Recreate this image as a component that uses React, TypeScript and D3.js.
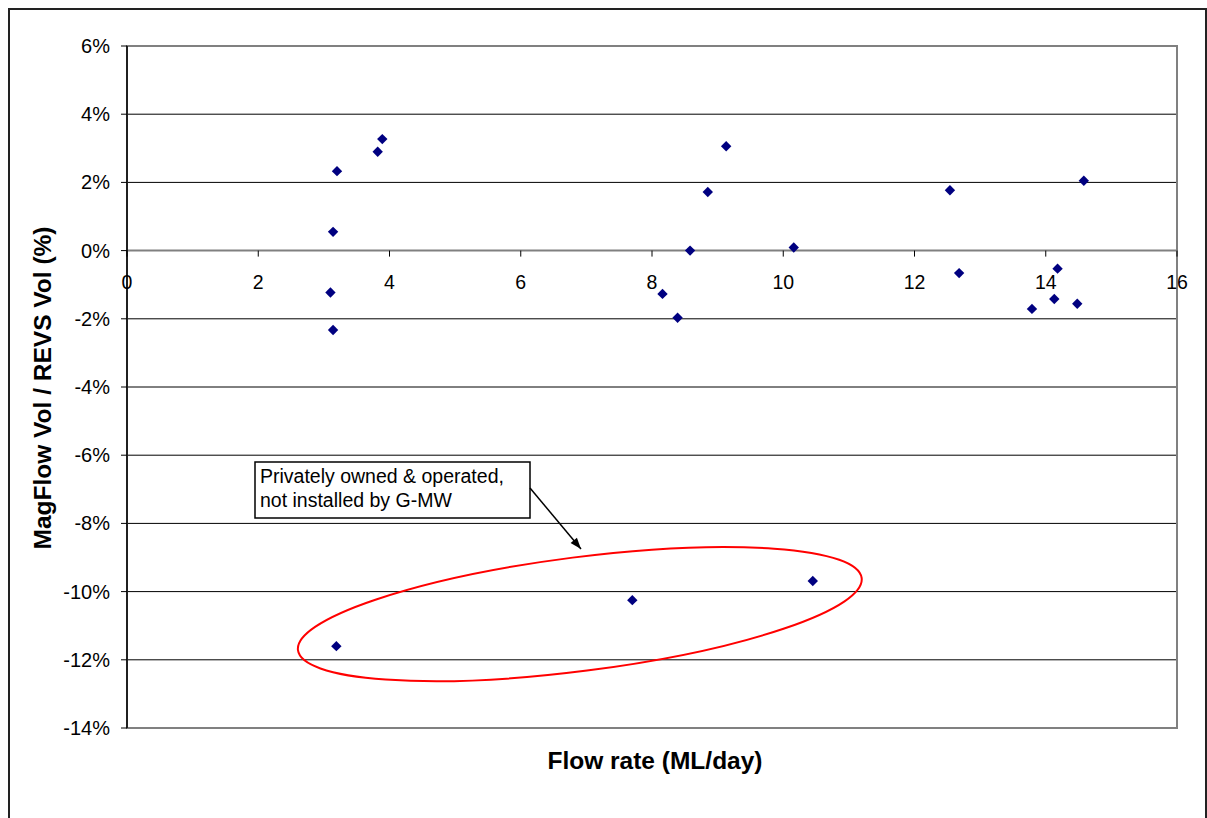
import React from 'react';
import * as d3 from 'd3';

// Flow rate (ML/day) and MagFlow / REVS volume difference (%)
const flowRate = [
  3.1, 3.14, 3.14, 3.2, 3.82, 3.89, 8.16, 8.39, 8.58, 8.85, 9.13, 10.16,
  12.54, 12.68, 14.58, 14.18, 14.13, 13.79, 14.48, 3.19, 7.7, 10.45,
];
const volDiff = [
  -1.23, -2.33, 0.55, 2.33, 2.9, 3.27, -1.27, -1.97, 0.0, 1.72, 3.06, 0.09,
  1.77, -0.66, 2.05, -0.53, -1.42, -1.71, -1.56, -11.6, -10.25, -9.69,
];

const xTicks = [0, 2, 4, 6, 8, 10, 12, 14, 16];
const yTicks = [-14, -12, -10, -8, -6, -4, -2, 0, 2, 4, 6];

const noteLines = ['Privately owned & operated,', 'not installed by G-MW'];
// ellipse around the private meters, in data units
const ring = { cx: 6.9, cy: -10.66, rx: 4.33, ry: 1.67, angle: -7.3 };

const font = '"Liberation Sans", Arial, sans-serif';

const App = () => {
  const margin = { left: 127, right: 1177, top: 46, bottom: 728 };

  const x = d3.scaleLinear().domain([0, 16]).range([margin.left, margin.right]);
  const y = d3.scaleLinear().domain([-14, 6]).range([margin.bottom, margin.top]);

  const points = d3.zip(flowRate, volDiff);
  const diamond = 'M0,-5.2L5.2,0L0,5.2L-5.2,0Z';

  // annotation box and arrow
  const box = { x: 255, y: 462, w: 275, h: 56 };
  const arrowFrom: [number, number] = [box.x + box.w, box.y + 26];
  const arrowTo: [number, number] = [581, 549];
  const ang = Math.atan2(arrowTo[1] - arrowFrom[1], arrowTo[0] - arrowFrom[0]);
  const head = d3.path();
  head.moveTo(arrowTo[0], arrowTo[1]);
  head.lineTo(arrowTo[0] - 12 * Math.cos(ang - 0.35), arrowTo[1] - 12 * Math.sin(ang - 0.35));
  head.lineTo(arrowTo[0] - 12 * Math.cos(ang + 0.35), arrowTo[1] - 12 * Math.sin(ang + 0.35));
  head.closePath();

  const ex = x(ring.cx);
  const ey = y(ring.cy);
  const erx = x(ring.cx + ring.rx) - ex;
  const ery = y(ring.cy - ring.ry) - ey;

  return (
    <div style={{ position: 'absolute', left: 0, top: 0 }}>
      <svg width={1207} height={818} style={{ display: 'block', background: '#fff' }}>
        {/* outer chart frame */}
        <rect x={9} y={9} width={1197} height={900} fill="none" stroke="#222" strokeWidth={2} />

        {/* gridlines */}
        {yTicks
          .filter((t) => t !== 0 && t !== -14 && t !== 6)
          .map((t) => (
            <line key={t} x1={margin.left} x2={margin.right} y1={y(t)} y2={y(t)} stroke="#000" strokeWidth={1} />
          ))}

        {/* plot area border */}
        <rect
          x={margin.left}
          y={margin.top}
          width={margin.right - margin.left}
          height={margin.bottom - margin.top}
          fill="none"
          stroke="#808080"
          strokeWidth={2}
        />

        {/* x axis at 0% */}
        <line x1={margin.left} x2={margin.right} y1={y(0)} y2={y(0)} stroke="#808080" strokeWidth={2} />
        {xTicks.map((t) => (
          <g key={t}>
            <line x1={x(t)} x2={x(t)} y1={y(0)} y2={y(0) + 6} stroke="#000" strokeWidth={1} />
            <text x={x(t)} y={y(0) + 38} textAnchor="middle" fontFamily={font} fontSize={19.5} fill="#000">
              {t}
            </text>
          </g>
        ))}

        {/* y axis */}
        <line x1={margin.left} x2={margin.left} y1={margin.top} y2={margin.bottom} stroke="#000" strokeWidth={1.5} />
        {yTicks.map((t) => (
          <g key={t}>
            <line x1={margin.left - 6} x2={margin.left} y1={y(t)} y2={y(t)} stroke="#000" strokeWidth={1} />
            <text x={margin.left - 17} y={y(t) + 7} textAnchor="end" fontFamily={font} fontSize={20} fill="#000">
              {t}%
            </text>
          </g>
        ))}

        {/* points */}
        {points.map(([fx, dv], i) => (
          <path key={i} d={diamond} transform={`translate(${x(fx)},${y(dv)})`} fill="#000080" />
        ))}

        {/* ring around private meters */}
        <ellipse
          cx={ex}
          cy={ey}
          rx={erx}
          ry={ery}
          transform={`rotate(${ring.angle},${ex},${ey})`}
          fill="none"
          stroke="#ff0000"
          strokeWidth={2}
        />

        {/* note */}
        <rect x={box.x} y={box.y} width={box.w} height={box.h} fill="#fff" stroke="#000" strokeWidth={1.5} />
        {noteLines.map((l, i) => (
          <text key={i} x={box.x + 5} y={box.y + 21 + i * 24} fontFamily={font} fontSize={19.5} fill="#000">
            {l}
          </text>
        ))}
        <line x1={arrowFrom[0]} y1={arrowFrom[1]} x2={arrowTo[0]} y2={arrowTo[1]} stroke="#000" strokeWidth={1.5} />
        <path d={head.toString()} fill="#000" />

        {/* axis titles */}
        <text x={655} y={769} textAnchor="middle" fontFamily={font} fontSize={24.5} fontWeight="bold" fill="#000">
          Flow rate (ML/day)
        </text>
        <text
          transform="translate(51,388) rotate(-90)"
          textAnchor="middle"
          fontFamily={font}
          fontSize={24.5}
          fontWeight="bold"
          fill="#000"
        >
          MagFlow Vol / REVS Vol (%)
        </text>
      </svg>
    </div>
  );
};

export default App;
